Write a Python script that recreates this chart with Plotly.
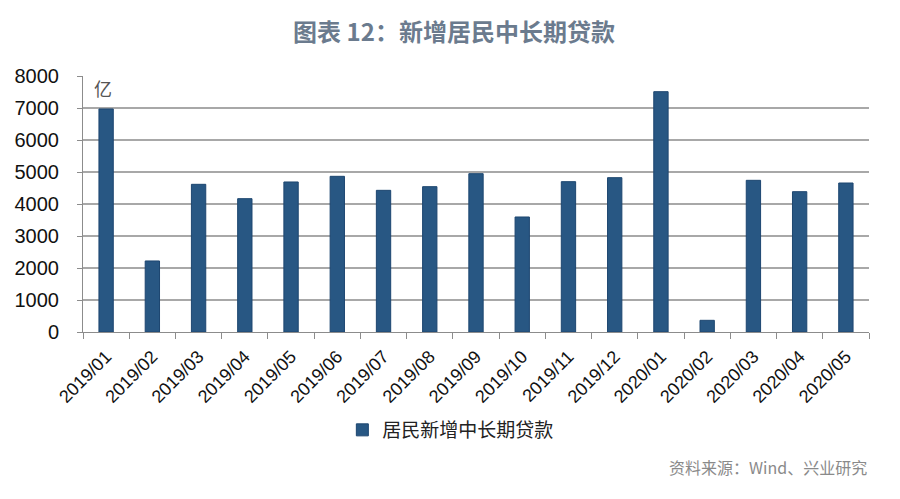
import plotly.graph_objects as go

months = ["2019/01", "2019/02", "2019/03", "2019/04", "2019/05", "2019/06",
          "2019/07", "2019/08", "2019/09", "2019/10", "2019/11", "2019/12",
          "2020/01", "2020/02", "2020/03", "2020/04", "2020/05"]
loans = [6970, 2220, 4615, 4167, 4688, 4865, 4427, 4542, 4948, 3594,
         4698, 4823, 7510, 365, 4740, 4385, 4656]
series_name = "居民新增中长期贷款"
y_ticks = [0, 1000, 2000, 3000, 4000, 5000, 6000, 7000, 8000]

fig = go.Figure()
fig.add_trace(go.Bar(
    x=months, y=loans, name=series_name,
    marker=dict(color="#285783", line=dict(color="#1d4670", width=1)),
    width=0.31,
))

# page body has an 8px margin; figure coordinates are page coordinates minus 8
W, H = 892, 491
l, r, t, b = 75, 31, 68, 167
ph = H - t - b
pw = W - l - r

def py(y_page):
    return (t + ph - (y_page - 8)) / ph

def px(x_page):
    return ((x_page - 8) - l) / pw

fig.update_layout(
    width=W, height=H,
    margin=dict(l=l, r=r, t=t, b=b, autoexpand=False),
    paper_bgcolor="white", plot_bgcolor="white",
    font=dict(family="Liberation Sans, Arial, sans-serif", color="#222222"),
    title=dict(text="<b>图表 12：新增居民中长期贷款</b>", x=0.5, xanchor="center",
               y=1 - (33 - 8) / H, yanchor="middle", yref="container",
               font=dict(family="Noto Sans CJK SC", size=24, color="#6b7b8e")),
    showlegend=True,
    legend=dict(orientation="h", x=0.468, xanchor="center", y=py(430),
                yanchor="middle",
                font=dict(family="Noto Sans CJK SC", size=19, color="#222222"),
                itemwidth=30),
)
fig.update_xaxes(
    type="category", tickangle=-45, tickfont=dict(size=18, color="#111111"),
    showline=True, linecolor="#8c8c8c", linewidth=1,
    ticks="outside", tickson="boundaries", ticklen=6, tickcolor="#8c8c8c",
    ticklabelstandoff=6,
    showgrid=False, automargin=False,
)
fig.update_yaxes(
    range=[0, 8000], tickvals=y_ticks, tickfont=dict(size=20, color="#111111"),
    showline=True, linecolor="#8c8c8c", linewidth=1,
    ticks="outside", ticklen=5, tickcolor="#8c8c8c", ticklabelstandoff=14,
    showgrid=True, gridcolor="#a8a8a8", gridwidth=1.5,
    zeroline=False, automargin=False,
)
fig.add_annotation(text="亿", xref="paper", yref="paper", x=px(92), y=py(88),
                   xanchor="left", yanchor="middle", showarrow=False,
                   font=dict(family="Noto Sans CJK SC", size=18, color="#555555"))
fig.add_annotation(text="资料来源：Wind、兴业研究", xref="paper", yref="paper",
                   x=px(869), y=py(467), xanchor="right", yanchor="middle",
                   showarrow=False,
                   font=dict(family="Noto Sans CJK SC", size=16, color="#8a8a8a"))

fig.write_html("out.html")
